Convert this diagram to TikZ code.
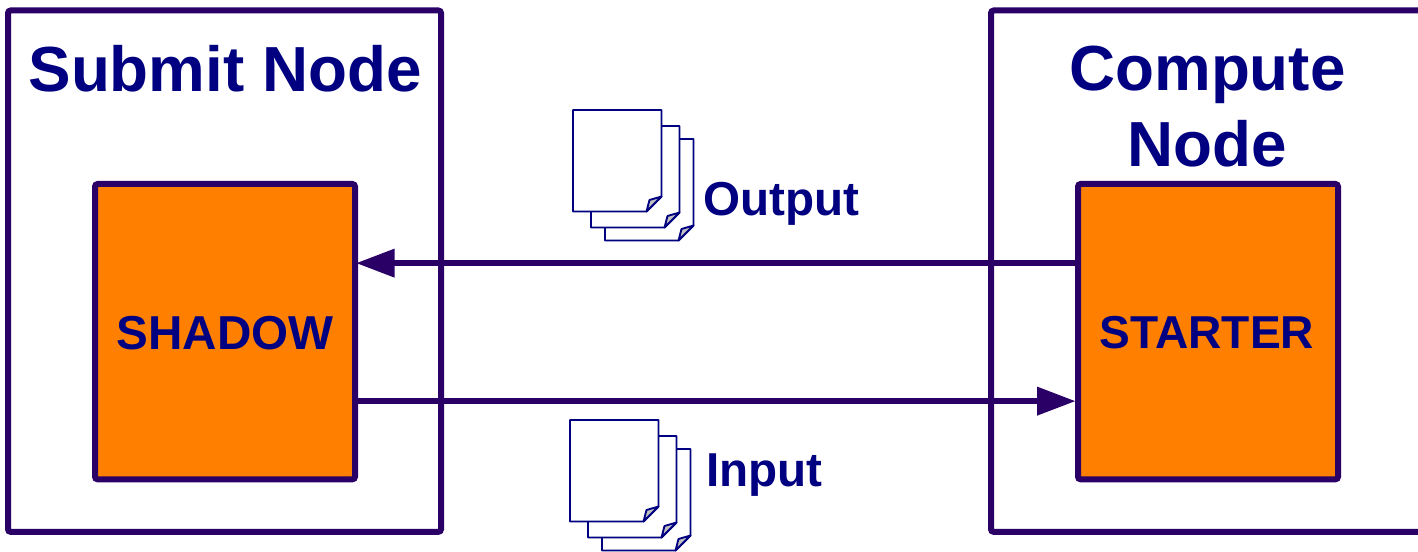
\documentclass[tikz,border=0pt]{standalone}
\usepackage{fontspec}
\setmainfont{Liberation Sans}
\usetikzlibrary{arrows.meta}
\definecolor{framecol}{HTML}{2A0066}
\definecolor{textcol}{HTML}{000080}
\definecolor{daemoncol}{HTML}{FF8000}
\definecolor{foldcol}{HTML}{C0C0C0}
\tikzset{
	machine/.style={draw=framecol, line width=4.5pt, rounded corners=2pt, minimum width=#1, minimum height=391pt, anchor=north west},
	daemon/.style={machine=195pt, fill=daemoncol, minimum height=221.5pt},
	title/.style={text=textcol, font=\fontsize{47.8}{57}\selectfont\bfseries, anchor=base, inner sep=0pt, align=center},
	tag/.style={text=textcol, font=\fontsize{35.7}{43}\selectfont\bfseries, anchor=base, inner sep=0pt},
	flow/.style={draw=framecol, line width=4.5pt, -{Triangle[length=29pt, width=20.5pt]}},
	docstack/.pic={
		\foreach \dx/\dy in {32/29, 18/16, 0/0} {
			\draw[textcol, line width=1.4pt, fill=white, line join=round] (\dx,\dy) -- (\dx+88.5,\dy) -- (\dx+88.5,\dy+86.5) -- (\dx+73.5,\dy+101.5) -- (\dx,\dy+101.5) -- cycle;
			\draw[textcol, line width=1.4pt, fill=foldcol, line join=round] (\dx+88.5,\dy+86.5) -- (\dx+76.5,\dy+90) -- (\dx+73.5,\dy+101.5) -- cycle;
		}
	}
}
\begin{document}
\begin{tikzpicture}[x=0.75pt, y=-0.75pt]
	\useasboundingbox (0,0) rectangle (1418,552);
	\clip (0,0) rectangle (1418,552);
	% the two machines
	\node (submit) [machine=324.75pt] at (5,7.5) {};
	\node (compute) [machine=340pt] at (988,7.5) {};
	\node (submitname) [title] at (225,92) {Submit Node};
	\node (computename) [title, anchor=base] at (1207.5,91) {Compute};
	\node (computename2) [title] at (1207.5,167) {Node};
	% the daemons
	\node (shadow) [daemon] at (92,181) {};
	\node (starter) [daemon] at (1075,181) {};
	\node (shadowname) [tag] at (225,350) {SHADOW};
	\node (startername) [tag, font=\fontsize{34.6}{41}\selectfont\bfseries] at (1207,349) {STARTER};
	% the transfers
	\draw[flow] ([yshift=51.4pt]starter.west) -- ([yshift=51.4pt, xshift=-1.5pt]shadow.east);
	\draw[flow] ([yshift=-52.1pt]shadow.east) -- ([yshift=-52.1pt, xshift=0.5pt]starter.west);
	% the files
	\pic (outdocs) at (573,110) {docstack};
	\pic (indocs) at (570,420) {docstack};
	\node (outname) [tag, anchor=base west] at (703,216) {Output};
	\node (inname) [tag, anchor=base west] at (706,486) {Input};
\end{tikzpicture}
\end{document}
